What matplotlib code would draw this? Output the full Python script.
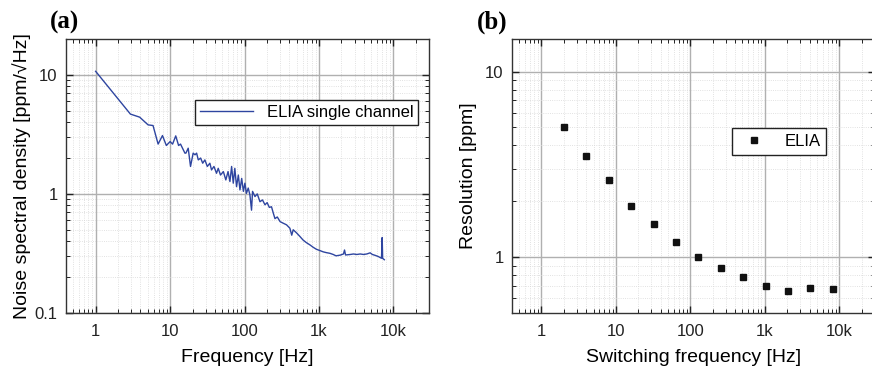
import matplotlib
matplotlib.use('Agg')
import matplotlib.pyplot as plt
from matplotlib.ticker import LogLocator, FixedLocator, FixedFormatter, NullFormatter

# (a) noise spectral density
freq_a = [1, 2.93, 3.9, 5.06, 5.9, 6.9, 7.9, 8.9, 10, 10.8, 11.9, 13, 13.8, 15.8,
          16.3, 17.5, 18.8, 20.4, 21.6, 22.7, 23.9, 25.7, 27.4, 29.3, 31.6, 34.2,
          36, 38.8, 42, 44.3, 47.5, 51.9, 56, 60, 63.6, 67, 70.5, 74, 78, 82.5,
          86.7, 91.5, 96.4, 101, 106, 112, 118, 124, 128, 138, 148, 161, 174, 188,
          201, 215, 230, 243, 256, 275, 300, 331, 366, 406, 430, 450, 500, 552,
          610, 675, 755, 830, 920, 1030, 1140, 1260, 1400, 1550, 1690, 1920, 2130,
          2200, 2270, 2630, 2900, 3220, 3570, 3950, 4380, 4860, 5200, 5650, 6250,
          6900, 7050, 7150, 7530]
nsd_a = [10.7, 4.68, 4.41, 3.8, 3.75, 2.62, 3.09, 2.55, 2.75, 2.62, 3.07, 2.55, 2.62, 2.2,
         2.2, 2.42, 1.7, 2.2, 2.13, 2.2, 1.93, 2.0, 1.81, 1.93, 1.7, 1.81,
         1.59, 1.7, 1.49, 1.64, 1.44, 1.54, 1.31, 1.54, 1.27, 1.7, 1.23, 1.64, 1.15, 1.44,
         1.08, 1.35, 1.05, 1.23, 1.01, 1.12, 0.98, 0.73, 1.05, 0.95, 1.0, 0.86, 0.89, 0.81,
         0.845, 0.77, 0.78, 0.69, 0.62, 0.64, 0.585, 0.567, 0.55, 0.515, 0.45, 0.5, 0.47, 0.44,
         0.41, 0.39, 0.373, 0.357, 0.343, 0.334, 0.326, 0.321, 0.317, 0.31, 0.302, 0.306, 0.313,
         0.338, 0.307, 0.31, 0.313, 0.31, 0.313, 0.31, 0.313, 0.32, 0.31, 0.305, 0.298,
         0.288, 0.43, 0.288, 0.28]

# (b) resolution vs switching frequency
freq_b = [2, 4, 8, 16, 32, 64, 128, 256, 512, 1024, 2048, 4096, 8192]
res_b = [5.0, 3.5, 2.6, 1.89, 1.5, 1.2, 1.0, 0.87, 0.78, 0.70, 0.66, 0.68, 0.67]

x_ticks = [1, 10, 100, 1000, 10000]
x_labels = ['1', '10', '100', '1k', '10k']

plt.rcParams['font.family'] = ['Liberation Sans', 'DejaVu Sans']

fig = plt.figure(figsize=(8.72, 3.68), dpi=100)
ax_a = fig.add_axes([0.0757, 0.1495, 0.4163, 0.7446])
ax_b = fig.add_axes([0.587, 0.1495, 0.4163, 0.7446])


def style_axis(ax, yticks, ylabels):
    ax.set_xscale('log')
    ax.set_yscale('log')
    ax.set_xlim(0.4, 30000)
    ax.xaxis.set_major_locator(FixedLocator(x_ticks))
    ax.xaxis.set_major_formatter(FixedFormatter(x_labels))
    ax.xaxis.set_minor_locator(LogLocator(base=10, subs=range(2, 10), numticks=20))
    ax.xaxis.set_minor_formatter(NullFormatter())
    ax.yaxis.set_major_locator(FixedLocator(yticks))
    ax.yaxis.set_major_formatter(FixedFormatter(ylabels))
    ax.yaxis.set_minor_locator(LogLocator(base=10, subs=range(2, 10), numticks=20))
    ax.yaxis.set_minor_formatter(NullFormatter())
    ax.grid(True, which='major', color='#b0b0b0', linewidth=1.0, linestyle='-')
    ax.grid(True, which='minor', color='#d8d8d8', linewidth=0.6, linestyle=':')
    ax.set_axisbelow(True)
    ax.tick_params(which='both', direction='in', top=True, right=True,
                   labelsize=12, colors='#222222')
    ax.tick_params(axis='x', which='major', pad=8)
    ax.tick_params(axis='y', which='major', pad=6)
    ax.tick_params(which='major', length=5, width=1)
    ax.tick_params(which='minor', length=3, width=0.7)
    for s in ax.spines.values():
        s.set_color('#333333')
        s.set_linewidth(1.0)


# panel (a)
ax_a.plot(freq_a, nsd_a, color='#2E45A0', linewidth=1.0, label='ELIA single channel')
style_axis(ax_a, [0.1, 1, 10], ['0.1', '1', '10'])
ax_a.set_ylim(0.1, 20)
ax_a.set_xlabel('Frequency [Hz]', fontsize=14, labelpad=7)
ax_a.set_ylabel('Noise spectral density [ppm/\u221aHz]', fontsize=14, labelpad=3)
leg = ax_a.legend(loc='upper left', bbox_to_anchor=(0.355, 0.777), borderaxespad=0,
                  fontsize=12, fancybox=False, framealpha=1, edgecolor='#222222',
                  handlelength=3.2, borderpad=0.3)
leg.get_frame().set_linewidth(1.0)

# panel (b)
ax_b.plot(freq_b, res_b, linestyle='none', marker='s', markersize=4.5,
          color='#111111', label='ELIA')
style_axis(ax_b, [1, 10], ['1', '10'])
ax_b.set_ylim(0.5, 15)
ax_b.set_xlabel('Switching frequency [Hz]', fontsize=14, labelpad=7)
ax_b.set_ylabel('Resolution [ppm]', fontsize=14, labelpad=6)
leg = ax_b.legend(loc='upper left', bbox_to_anchor=(0.606, 0.675), borderaxespad=0,
                  fontsize=12, fancybox=False, framealpha=1, edgecolor='#222222',
                  handlelength=2.0, borderpad=0.35)
leg.get_frame().set_linewidth(1.0)

# panel letters
fig.text(0.057, 0.94, '(a)', fontsize=18, fontweight='bold',
         family='Liberation Serif', ha='left', va='center')
fig.text(0.547, 0.94, '(b)', fontsize=18, fontweight='bold',
         family='Liberation Serif', ha='left', va='center')

fig.savefig('out.png', dpi=100)
